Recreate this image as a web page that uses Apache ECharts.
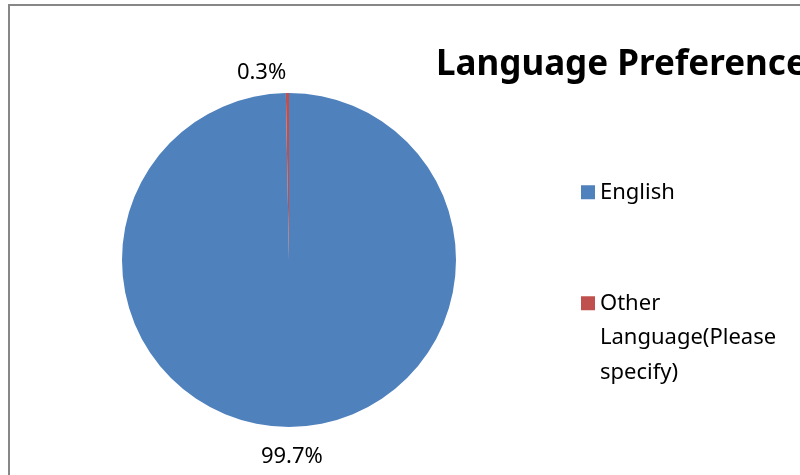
<!DOCTYPE html>
<html>
<head>
<meta charset="utf-8">
<script src="https://cdn.jsdelivr.net/npm/echarts@6/dist/echarts.min.js"></script>
<style>
  html, body { margin: 0; padding: 0; background: #fff; }
  #chart { width: 800px; height: 475px; }
</style>
</head>
<body>
<div id="chart"></div>
<script>
var categories = ['English', 'Other Language(Please specify)'];
var values = [99.7, 0.3];
var colors = ['#4F81BD', '#C0504D'];

var myChart = echarts.init(document.getElementById('chart'));

var pieData = categories.map(function (name, i) {
    return {
        name: name,
        value: values[i],
        itemStyle: { color: colors[i] },
        labelLine: { show: false, length: i === 0 ? 30 : 20, length2: 0 }
    };
});

var legendText = {
    fontFamily: 'Noto Sans',
    fontSize: 22,
    color: '#000',
    width: 190,
    overflow: 'break',
    lineHeight: 34.5
};

var option = {
    animation: false,
    graphic: [{
        type: 'rect',
        shape: { x: 9, y: 5, width: 900, height: 600 },
        style: { fill: 'none', stroke: '#878787', lineWidth: 2 },
        silent: true
    }],
    title: {
        text: 'Language Preference',
        left: 431,
        top: 43,
        textStyle: { fontFamily: 'Noto Sans', fontWeight: 'bold', fontSize: 35, color: '#000' }
    },
    legend: [{
        data: [categories[0]],
        left: 576,
        top: 170,
        icon: 'rect',
        itemWidth: 14,
        itemHeight: 14,
        itemGap: 8,
        textStyle: legendText
    }, {
        data: [categories[1]],
        left: 576,
        top: 212,
        icon: 'rect',
        itemWidth: 14,
        itemHeight: 14,
        // blank lines on top so the marker sits beside the first line
        formatter: function (name) { return '\n\n' + name; },
        textStyle: legendText
    }],
    series: [{
        type: 'pie',
        center: [289, 260],
        radius: 167,
        startAngle: 90,
        clockwise: true,
        data: pieData,
        label: {
            show: true,
            position: 'outside',
            formatter: function (p) { return p.value.toFixed(1) + '%'; },
            fontFamily: 'Noto Sans',
            fontSize: 22,
            color: '#000'
        },
        labelLayout: function (p) {
            if (p.dataIndex === 0) {
                return { align: 'center', dx: -4 };
            }
            return { dx: 4 };
        },
        emphasis: { disabled: true }
    }]
};

myChart.setOption(option);
</script>
</body>
</html>
